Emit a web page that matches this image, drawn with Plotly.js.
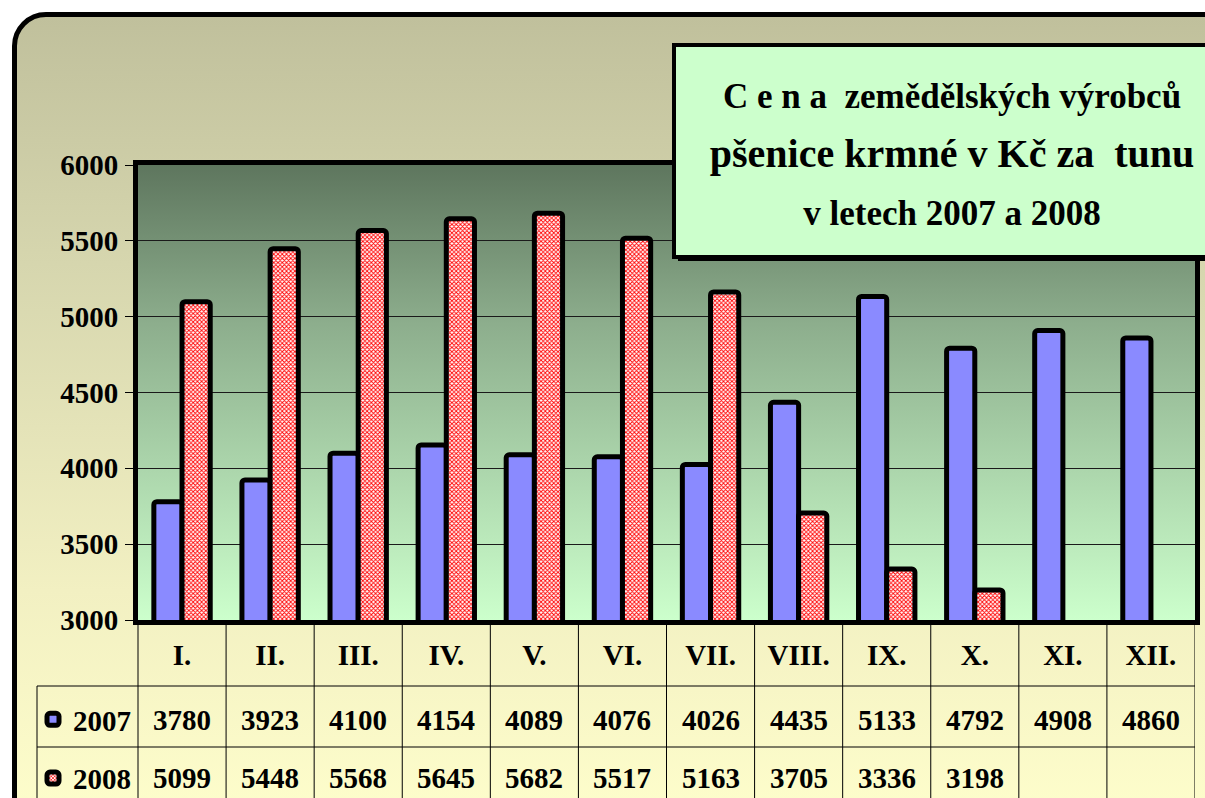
<!DOCTYPE html>
<html>
<head>
<meta charset="utf-8">
<script src="https://cdn.plot.ly/plotly-3.0.1.min.js"></script>
<style>
  html, body { margin: 0; padding: 0; background: #ffffff; }
  #wrap { position: relative; width: 1205px; height: 798px; overflow: hidden; background: #ffffff; }
  #frame {
    position: absolute; left: 12px; top: 12px; width: 1230px; height: 830px;
    box-sizing: border-box; border: 5px solid #000; border-radius: 34px;
    background: linear-gradient(to bottom, #C0C09C 0%, #D6D6AE 30%, #F2F0C2 70%, #FFFFCC 100%);
  }
  #chart { position: absolute; left: 0; top: 0; width: 1205px; height: 798px; }
</style>
</head>
<body>
<div id="wrap">
  <div id="frame"></div>
  <div id="chart"></div>
</div>
<script>
// ---- data ----
var months = ["I.", "II.", "III.", "IV.", "V.", "VI.", "VII.", "VIII.", "IX.", "X.", "XI.", "XII."];
var price2007 = [3780, 3923, 4100, 4154, 4089, 4076, 4026, 4435, 5133, 4792, 4908, 4860];
var price2008 = [5099, 5448, 5568, 5645, 5682, 5517, 5163, 3705, 3336, 3198, null, null];
var seriesNames = ["2007", "2008"];
var yTicks = [3000, 3500, 4000, 4500, 5000, 5500, 6000];

// ---- geometry helpers (pixel -> paper) ----
var W = 1205, H = 798;
var mL = 138, mR = 10, mT = 165, mB = 178;
var pw = W - mL - mR, ph = H - mT - mB;
function px(x) { return (x - mL) / pw; }
function py(y) { return (H - mB - y) / ph; }

var FONT = "Liberation Serif, Times New Roman, serif";

var traces = [
  {
    type: "bar", name: seriesNames[0], x: months, y: price2007,
    legendgroup: "a",
    marker: { color: "#8A8AFF", line: { color: "#000000", width: 5 }, cornerradius: 3 },
    hoverinfo: "x+y"
  },
  {
    type: "bar", name: seriesNames[1], x: months, y: price2008,
    legendgroup: "b",
    marker: {
      color: "#FFFFFF",
      line: { color: "#000000", width: 5 },
      cornerradius: 3,
      pattern: { shape: "x", fgcolor: "#FF0000", bgcolor: "#FFFFFF", size: 3, solidity: 0.5, fillmode: "replace" }
    },
    hoverinfo: "x+y"
  }
];

// plot-area gradient as an SVG image
var gradSvg = '<svg xmlns="http://www.w3.org/2000/svg" width="100" height="100" preserveAspectRatio="none">' +
  '<defs><linearGradient id="g" x1="0" y1="0" x2="0" y2="1">' +
  '<stop offset="0" stop-color="#5E765E"/><stop offset="0.35" stop-color="#8DAE8D"/>' +
  '<stop offset="1" stop-color="#CCFFCC"/></linearGradient></defs>' +
  '<rect width="100" height="100" fill="url(#g)"/></svg>';
var gradUri = "data:image/svg+xml;base64," + btoa(gradSvg);

var shapes = [];
// title box shadow + box
shapes.push({ type: "rect", xref: "paper", yref: "paper", x0: px(678), x1: px(1215), y0: py(261), y1: py(48),
  fillcolor: "#000000", line: { width: 0 }, layer: "above" });
shapes.push({ type: "rect", xref: "paper", yref: "paper", x0: px(674), x1: px(1212), y0: py(257), y1: py(45),
  fillcolor: "#CCFFCC", line: { color: "#000000", width: 4 }, layer: "above" });

// data table lines
var rowLine1 = py(686), rowLine2 = py(747), tableBottom = py(830);
shapes.push({ type: "line", xref: "paper", yref: "paper", x0: px(37), x1: 1, y0: rowLine1, y1: rowLine1, line: { color: "#000", width: 1 } });
shapes.push({ type: "line", xref: "paper", yref: "paper", x0: px(37), x1: 1, y0: rowLine2, y1: rowLine2, line: { color: "#000", width: 1 } });
shapes.push({ type: "line", xref: "paper", yref: "paper", x0: px(37), x1: px(37), y0: rowLine1, y1: tableBottom, line: { color: "#000", width: 1 } });
shapes.push({ type: "line", xref: "paper", yref: "paper", x0: 0, x1: 0, y0: 0, y1: tableBottom, line: { color: "#000", width: 1 } });
for (var i = 0; i < months.length; i++) {
  shapes.push({ type: "line", xref: "x", yref: "paper", x0: i + 0.5, x1: i + 0.5, y0: 0, y1: tableBottom,
    line: { color: "#000", width: 1 } });
}

// table values
var annotations = [];
for (var j = 0; j < months.length; j++) {
  annotations.push({ xref: "x", yref: "paper", x: months[j], y: py(720), text: String(price2007[j]),
    showarrow: false, xanchor: "center", yanchor: "middle",
    font: { family: FONT, size: 29, color: "#000", weight: 700 } });
  if (price2008[j] !== null) {
    annotations.push({ xref: "x", yref: "paper", x: months[j], y: py(778), text: String(price2008[j]),
      showarrow: false, xanchor: "center", yanchor: "middle",
      font: { family: FONT, size: 29, color: "#000", weight: 700 } });
  }
}

var layout = {
  width: W, height: H,
  margin: { l: mL, r: mR, t: mT, b: mB, pad: 0, autoexpand: false },
  paper_bgcolor: "rgba(0,0,0,0)",
  plot_bgcolor: "rgba(0,0,0,0)",
  barmode: "group", bargap: 0.36, bargroupgap: 0,
  showlegend: true,
  legend: {
    x: px(33), xanchor: "left", y: py(694), yanchor: "top",
    bgcolor: "rgba(0,0,0,0)", borderwidth: 0,
    font: { family: FONT, size: 29, color: "#000", weight: 700 },
    tracegroupgap: 18, itemwidth: 30, traceorder: "grouped"
  },
  title: {
    text: '<span style="font-size:35px">C e n a  zemědělských výrobců</span><br>' +
          '<span style="font-size:40px">pšenice krmné v Kč za  tunu</span><br>' +
          '<span style="font-size:35px">v letech 2007 a 2008</span>',
    xref: "container", yref: "container", x: 952 / W, xanchor: "center",
    y: 1 - 108 / H, yanchor: "top",
    font: { family: FONT, size: 45, color: "#000", weight: 700 }
  },
  xaxis: {
    type: "category", range: [-0.5, 11.5],
    showline: true, linecolor: "#000", linewidth: 5, mirror: true,
    ticks: "", showgrid: false, zeroline: false,
    tickfont: { family: FONT, size: 29, color: "#000", weight: 700 },
    ticklabelstandoff: 5, fixedrange: true
  },
  yaxis: {
    range: [3000, 6000], tickvals: yTicks, ticktext: yTicks.map(String),
    showline: true, linecolor: "#000", linewidth: 5, mirror: true,
    ticks: "outside", ticklen: 8, tickwidth: 1, tickcolor: "#000",
    showgrid: true, gridcolor: "#1a1a1a", gridwidth: 1, zeroline: false,
    tickfont: { family: FONT, size: 29, color: "#000", weight: 700 },
    ticklabelstandoff: 1, fixedrange: true
  },
  images: [{ source: gradUri, xref: "paper", yref: "paper", x: 0, y: 1, sizex: 1, sizey: 1,
    sizing: "stretch", xanchor: "left", yanchor: "top", layer: "below" }],
  shapes: shapes,
  annotations: annotations
};

Plotly.newPlot("chart", traces, layout, { displayModeBar: false, staticPlot: true });
</script>
</body>
</html>
